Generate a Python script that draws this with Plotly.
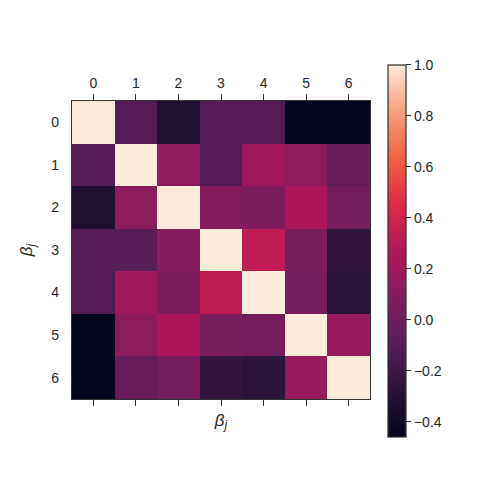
import plotly.graph_objects as go

# correlation matrix between coefficients beta_j
labels = [0, 1, 2, 3, 4, 5, 6]
corr = [
    [1.00, -0.10, -0.33, -0.09, -0.10, -0.46, -0.46],
    [-0.10, 1.00, 0.13, -0.08, 0.20, 0.13, -0.02],
    [-0.33, 0.13, 1.00, 0.10, 0.07, 0.24, 0.04],
    [-0.09, -0.08, 0.10, 1.00, 0.32, 0.05, -0.25],
    [-0.10, 0.20, 0.07, 0.32, 1.00, 0.03, -0.28],
    [-0.46, 0.13, 0.24, 0.05, 0.03, 1.00, 0.16],
    [-0.46, -0.02, 0.04, -0.25, -0.28, 0.16, 1.00],
]
cbar_ticks = [-0.4, -0.2, 0.0, 0.2, 0.4, 0.6, 0.8, 1.0]

# approximation of seaborn "rocket"
rocket = [
    [0.000, "#03051A"],
    [0.125, "#2B1437"],
    [0.250, "#541D54"],
    [0.375, "#821D5D"],
    [0.500, "#B3175A"],
    [0.625, "#DD2A48"],
    [0.750, "#F26142"],
    [0.875, "#F5A07D"],
    [1.000, "#FAEBDD"],
]

ink = "#262626"
edge = "#333333"
font = dict(family="Liberation Sans, Arial, sans-serif", size=14, color=ink)

fig = go.Figure()

fig.add_trace(go.Heatmap(
    z=corr,
    x=labels,
    y=labels,
    zmin=-0.46,
    zmax=1.0,
    colorscale=rocket,
    colorbar=dict(
        thickness=18,
        lenmode="pixels",
        len=372,
        x=1.06,
        xanchor="left",
        xpad=0,
        y=0.497,
        yanchor="middle",
        ypad=0,
        outlinewidth=1.25,
        outlinecolor=edge,
        tickvals=cbar_ticks,
        tickformat=".1f",
        tickprefix="\u2002",
        ticks="outside",
        ticklen=5,
        tickwidth=1.25,
        tickcolor=edge,
        tickfont=font,
    ),
))

# invisible trace so the bottom axis is drawn
fig.add_trace(go.Scatter(
    x=labels, y=labels, xaxis="x2", mode="markers",
    marker=dict(opacity=0), hoverinfo="skip", showlegend=False,
))

axis_common = dict(
    tickvals=labels,
    ticks="outside",
    ticklen=6,
    tickwidth=1.25,
    tickcolor=edge,
    showline=True,
    linecolor=edge,
    linewidth=1.25,
    showgrid=False,
    zeroline=False,
    automargin=False,
    tickfont=font,
)

fig.update_layout(
    width=480,
    height=480,
    paper_bgcolor="white",
    plot_bgcolor="white",
    font=font,
    margin=dict(l=72, r=110, t=101, b=81, autoexpand=False),
    xaxis=dict(axis_common, side="top", range=[-0.5, 6.5], mirror=True),
    xaxis2=dict(axis_common, side="bottom", overlaying="x", matches="x",
                showticklabels=False,
                title=dict(text="<i>β<sub>j</sub></i>", font=dict(size=17, color=ink), standoff=8)),
    # no visible ticks on the left, just the labels
    yaxis=dict(axis_common, range=[6.5, -0.5], mirror=True,
               ticklen=9, tickcolor="rgba(0,0,0,0)",
               title=dict(text="<i>β<sub>j</sub></i>", font=dict(size=17, color=ink), standoff=14)),
)

# drop the default page margin so the figure sits at the window's corner
fig.write_html("out.html", config={"displayModeBar": False},
               post_script="document.body.style.margin='0';")
